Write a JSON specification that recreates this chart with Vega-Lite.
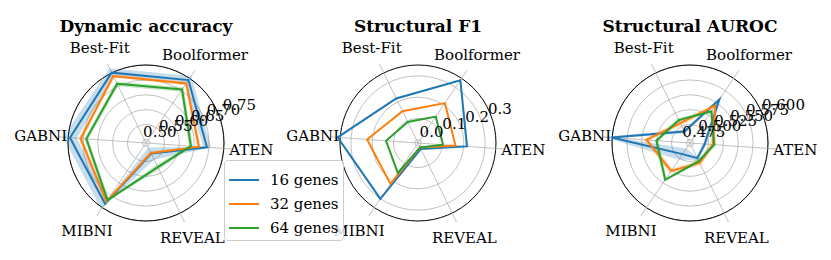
{
  "$schema": "https://vega.github.io/schema/vega-lite/v6.json",
  "padding": {"left": 10, "right": 5, "top": 0, "bottom": 0},
  "spacing": 0,
  "bounds": "flush",
  "config": {
    "view": {"stroke": null},
    "axis": {"disable": true},
    "title": {"font": "DejaVu Serif", "fontSize": 17, "fontWeight": "bold", "color": "black", "anchor": "middle", "offset": -36, "baseline": "alphabetic"},
    "text": {"font": "DejaVu Serif", "fontSize": 15, "color": "black"}
  },
  "resolve": {"scale": {"color": "independent", "fill": "independent"}, "legend": {"color": "independent", "fill": "independent"}},
  "datasets": {
    "axes": [
      {"axis": "ATEN"}, {"axis": "Boolformer"}, {"axis": "Best-Fit"},
      {"axis": "GABNI"}, {"axis": "MIBNI"}, {"axis": "REVEAL"}
    ],
    "frame": [{"part": "outer"}],
    "rings": [
      {"metric": "Dynamic accuracy", "tick": 0.50, "label": "0.50"},
      {"metric": "Dynamic accuracy", "tick": 0.55, "label": "0.55"},
      {"metric": "Dynamic accuracy", "tick": 0.60, "label": "0.60"},
      {"metric": "Dynamic accuracy", "tick": 0.65, "label": "0.65"},
      {"metric": "Dynamic accuracy", "tick": 0.70, "label": "0.70"},
      {"metric": "Dynamic accuracy", "tick": 0.75, "label": "0.75"},
      {"metric": "Structural F1", "tick": 0.0, "label": "0.0"},
      {"metric": "Structural F1", "tick": 0.1, "label": "0.1"},
      {"metric": "Structural F1", "tick": 0.2, "label": "0.2"},
      {"metric": "Structural F1", "tick": 0.3, "label": "0.3"},
      {"metric": "Structural AUROC", "tick": 0.475, "label": "0.475"},
      {"metric": "Structural AUROC", "tick": 0.500, "label": "0.500"},
      {"metric": "Structural AUROC", "tick": 0.525, "label": "0.525"},
      {"metric": "Structural AUROC", "tick": 0.550, "label": "0.550"},
      {"metric": "Structural AUROC", "tick": 0.575, "label": "0.575"},
      {"metric": "Structural AUROC", "tick": 0.600, "label": "0.600"}
    ],
    "scores": [
      {"metric": "Dynamic accuracy", "method": "16 genes", "axis": "ATEN", "mean": 0.670, "std": 0.012},
      {"metric": "Dynamic accuracy", "method": "16 genes", "axis": "Boolformer", "mean": 0.714, "std": 0.015},
      {"metric": "Dynamic accuracy", "method": "16 genes", "axis": "Best-Fit", "mean": 0.721, "std": 0.015},
      {"metric": "Dynamic accuracy", "method": "16 genes", "axis": "GABNI", "mean": 0.715, "std": 0.020},
      {"metric": "Dynamic accuracy", "method": "16 genes", "axis": "MIBNI", "mean": 0.706, "std": 0.020},
      {"metric": "Dynamic accuracy", "method": "16 genes", "axis": "REVEAL", "mean": 0.523, "std": 0.020},
      {"metric": "Dynamic accuracy", "method": "32 genes", "axis": "ATEN", "mean": 0.646, "std": 0.006},
      {"metric": "Dynamic accuracy", "method": "32 genes", "axis": "Boolformer", "mean": 0.702, "std": 0.006},
      {"metric": "Dynamic accuracy", "method": "32 genes", "axis": "Best-Fit", "mean": 0.710, "std": 0.006},
      {"metric": "Dynamic accuracy", "method": "32 genes", "axis": "GABNI", "mean": 0.683, "std": 0.006},
      {"metric": "Dynamic accuracy", "method": "32 genes", "axis": "MIBNI", "mean": 0.699, "std": 0.006},
      {"metric": "Dynamic accuracy", "method": "32 genes", "axis": "REVEAL", "mean": 0.521, "std": 0.005},
      {"metric": "Dynamic accuracy", "method": "64 genes", "axis": "ATEN", "mean": 0.622, "std": 0.006},
      {"metric": "Dynamic accuracy", "method": "64 genes", "axis": "Boolformer", "mean": 0.680, "std": 0.008},
      {"metric": "Dynamic accuracy", "method": "64 genes", "axis": "Best-Fit", "mean": 0.684, "std": 0.008},
      {"metric": "Dynamic accuracy", "method": "64 genes", "axis": "GABNI", "mean": 0.666, "std": 0.006},
      {"metric": "Dynamic accuracy", "method": "64 genes", "axis": "MIBNI", "mean": 0.693, "std": 0.006},
      {"metric": "Dynamic accuracy", "method": "64 genes", "axis": "REVEAL", "mean": 0.568, "std": 0.008},
      {"metric": "Structural F1", "method": "16 genes", "axis": "ATEN", "mean": 0.189, "std": 0.004},
      {"metric": "Structural F1", "method": "16 genes", "axis": "Boolformer", "mean": 0.300, "std": 0.004},
      {"metric": "Structural F1", "method": "16 genes", "axis": "Best-Fit", "mean": 0.191, "std": 0.004},
      {"metric": "Structural F1", "method": "16 genes", "axis": "GABNI", "mean": 0.320, "std": 0.004},
      {"metric": "Structural F1", "method": "16 genes", "axis": "MIBNI", "mean": 0.265, "std": 0.004},
      {"metric": "Structural F1", "method": "16 genes", "axis": "REVEAL", "mean": 0.012, "std": 0.002},
      {"metric": "Structural F1", "method": "32 genes", "axis": "ATEN", "mean": 0.141, "std": 0.002},
      {"metric": "Structural F1", "method": "32 genes", "axis": "Boolformer", "mean": 0.185, "std": 0.002},
      {"metric": "Structural F1", "method": "32 genes", "axis": "Best-Fit", "mean": 0.132, "std": 0.002},
      {"metric": "Structural F1", "method": "32 genes", "axis": "GABNI", "mean": 0.197, "std": 0.002},
      {"metric": "Structural F1", "method": "32 genes", "axis": "MIBNI", "mean": 0.190, "std": 0.002},
      {"metric": "Structural F1", "method": "32 genes", "axis": "REVEAL", "mean": 0.005, "std": 0.001},
      {"metric": "Structural F1", "method": "64 genes", "axis": "ATEN", "mean": 0.089, "std": 0.002},
      {"metric": "Structural F1", "method": "64 genes", "axis": "Boolformer", "mean": 0.117, "std": 0.002},
      {"metric": "Structural F1", "method": "64 genes", "axis": "Best-Fit", "mean": 0.082, "std": 0.002},
      {"metric": "Structural F1", "method": "64 genes", "axis": "GABNI", "mean": 0.118, "std": 0.002},
      {"metric": "Structural F1", "method": "64 genes", "axis": "MIBNI", "mean": 0.135, "std": 0.002},
      {"metric": "Structural F1", "method": "64 genes", "axis": "REVEAL", "mean": 0.005, "std": 0.001},
      {"metric": "Structural AUROC", "method": "16 genes", "axis": "ATEN", "mean": 0.491, "std": 0.003},
      {"metric": "Structural AUROC", "method": "16 genes", "axis": "Boolformer", "mean": 0.547, "std": 0.006},
      {"metric": "Structural AUROC", "method": "16 genes", "axis": "Best-Fit", "mean": 0.488, "std": 0.003},
      {"metric": "Structural AUROC", "method": "16 genes", "axis": "GABNI", "mean": 0.586, "std": 0.012},
      {"metric": "Structural AUROC", "method": "16 genes", "axis": "MIBNI", "mean": 0.489, "std": 0.010},
      {"metric": "Structural AUROC", "method": "16 genes", "axis": "REVEAL", "mean": 0.494, "std": 0.003},
      {"metric": "Structural AUROC", "method": "32 genes", "axis": "ATEN", "mean": 0.503, "std": 0.004},
      {"metric": "Structural AUROC", "method": "32 genes", "axis": "Boolformer", "mean": 0.536, "std": 0.004},
      {"metric": "Structural AUROC", "method": "32 genes", "axis": "Best-Fit", "mean": 0.502, "std": 0.004},
      {"metric": "Structural AUROC", "method": "32 genes", "axis": "GABNI", "mean": 0.534, "std": 0.004},
      {"metric": "Structural AUROC", "method": "32 genes", "axis": "MIBNI", "mean": 0.519, "std": 0.004},
      {"metric": "Structural AUROC", "method": "32 genes", "axis": "REVEAL", "mean": 0.502, "std": 0.004},
      {"metric": "Structural AUROC", "method": "64 genes", "axis": "ATEN", "mean": 0.505, "std": 0.003},
      {"metric": "Structural AUROC", "method": "64 genes", "axis": "Boolformer", "mean": 0.526, "std": 0.003},
      {"metric": "Structural AUROC", "method": "64 genes", "axis": "Best-Fit", "mean": 0.507, "std": 0.003},
      {"metric": "Structural AUROC", "method": "64 genes", "axis": "GABNI", "mean": 0.519, "std": 0.003},
      {"metric": "Structural AUROC", "method": "64 genes", "axis": "MIBNI", "mean": 0.535, "std": 0.003},
      {"metric": "Structural AUROC", "method": "64 genes", "axis": "REVEAL", "mean": 0.499, "std": 0.003}
    ]
  },
  "hconcat": [
    {
      "title": {"text": "Dynamic accuracy"},
      "width": 272, "height": 260,
      "layer": [
        {
          "data": {"name": "rings"},
          "transform": [{"filter": "datum.metric == 'Dynamic accuracy'"}, {"calculate": "(datum.tick - 0.488) / 0.262", "as": "rn"}, {"calculate": "0", "as": "o"}],
          "mark": {"type": "point", "shape": "circle", "filled": false, "stroke": "#b0b0b0", "strokeWidth": 0.8, "opacity": 1},
          "encoding": {
            "x": {"field": "o", "type": "quantitative", "scale": {"domain": [-1.5455, 1.5455], "nice": false, "zero": false}},
            "y": {"field": "o", "type": "quantitative", "scale": {"domain": [-1.3295, 1.625], "nice": false, "zero": false}},
            "size": {"field": "rn", "type": "quantitative", "scale": {"type": "pow", "exponent": 2, "domain": [0, 1], "range": [0, 24328.5], "zero": true}, "legend": null}
          }
        },
        {
          "data": {"name": "frame"},
          "transform": [{"calculate": "1", "as": "rn"}, {"calculate": "0", "as": "o"}],
          "mark": {"type": "point", "shape": "circle", "filled": false, "stroke": "black", "strokeWidth": 1, "opacity": 1},
          "encoding": {
            "x": {"field": "o", "type": "quantitative"},
            "y": {"field": "o", "type": "quantitative"},
            "size": {"field": "rn", "type": "quantitative", "scale": {"type": "pow", "exponent": 2, "domain": [0, 1], "range": [0, 24328.5], "zero": true}, "legend": null}
          }
        },
        {
          "data": {"name": "axes"},
          "transform": [
            {"calculate": "indexof(['ATEN','Boolformer','Best-Fit','GABNI','MIBNI','REVEAL'], datum.axis)", "as": "k"},
            {"calculate": "(-4 + 60 * datum.k) * PI / 180", "as": "th"},
            {"calculate": "0", "as": "o"},
            {"calculate": "cos(datum.th)", "as": "ex"},
            {"calculate": "sin(datum.th)", "as": "ey"}
          ],
          "mark": {"type": "rule", "stroke": "#b0b0b0", "strokeWidth": 0.8},
          "encoding": {
            "x": {"field": "o", "type": "quantitative"},
            "y": {"field": "o", "type": "quantitative"},
            "x2": {"field": "ex"},
            "y2": {"field": "ey"}
          }
        },
        {
          "data": {"name": "scores"},
          "transform": [
            {"filter": "datum.metric == 'Dynamic accuracy'"},
            {"calculate": "indexof(['ATEN','Boolformer','Best-Fit','GABNI','MIBNI','REVEAL'], datum.axis)", "as": "k"},
            {"calculate": "(-4 + 60 * datum.k) * PI / 180", "as": "th"},
            {"calculate": "datum.mean + datum.std", "as": "hi"},
            {"calculate": "datum.mean - datum.std", "as": "lo"},
            {"calculate": "datum.k == 0 ? datum.mean + datum.std : null", "as": "hiC"},
            {"calculate": "datum.k == 0 ? datum.mean - datum.std : null", "as": "loC"},
            {"fold": ["hi", "lo", "hiC", "loC"], "as": ["part", "v"]},
            {"filter": "datum.v != null"},
            {"calculate": "datum.part == 'hi' ? datum.k : datum.part == 'hiC' ? 6 : datum.part == 'loC' ? 7 : 13 - datum.k", "as": "ord"},
            {"calculate": "max(0, (datum.v - 0.488) / 0.262)", "as": "rn"},
            {"calculate": "datum.rn * cos(datum.th)", "as": "px"},
            {"calculate": "datum.rn * sin(datum.th)", "as": "py"}
          ],
          "mark": {"type": "line", "strokeWidth": 0, "strokeOpacity": 0, "fillOpacity": 0.25},
          "encoding": {
            "x": {"field": "px", "type": "quantitative"},
            "y": {"field": "py", "type": "quantitative"},
            "order": {"field": "ord", "type": "quantitative"},
            "fill": {"field": "method", "type": "nominal", "scale": {"domain": ["64 genes", "32 genes", "16 genes"], "range": ["#2ca02c", "#ff7f0e", "#1f77b4"]}, "legend": null}
          }
        },
        {
          "data": {"name": "scores"},
          "transform": [
            {"filter": "datum.metric == 'Dynamic accuracy'"},
            {"calculate": "indexof(['ATEN','Boolformer','Best-Fit','GABNI','MIBNI','REVEAL'], datum.axis)", "as": "k"},
            {"calculate": "(-4 + 60 * datum.k) * PI / 180", "as": "th"},
            {"calculate": "(datum.mean - 0.488) / 0.262", "as": "rn"},
            {"calculate": "datum.rn * cos(datum.th)", "as": "px"},
            {"calculate": "datum.rn * sin(datum.th)", "as": "py"}
          ],
          "mark": {"type": "line", "interpolate": "linear-closed", "strokeWidth": 2},
          "encoding": {
            "x": {"field": "px", "type": "quantitative"},
            "y": {"field": "py", "type": "quantitative"},
            "order": {"field": "k", "type": "quantitative"},
            "color": {"field": "method", "type": "nominal", "scale": {"domain": ["16 genes", "32 genes", "64 genes"], "range": ["#1f77b4", "#ff7f0e", "#2ca02c"]}, "legend": null}
          }
        },
        {
          "data": {"name": "axes"},
          "transform": [
            {"calculate": "indexof(['ATEN','Boolformer','Best-Fit','GABNI','MIBNI','REVEAL'], datum.axis)", "as": "k"},
            {"calculate": "(-4 + 60 * datum.k) * PI / 180", "as": "th"},
            {"calculate": "1.2 * cos(datum.th)", "as": "lx"},
            {"calculate": "1.2 * sin(datum.th)", "as": "ly"}
          ],
          "mark": {"type": "text", "align": "center", "baseline": "middle"},
          "encoding": {
            "x": {"field": "lx", "type": "quantitative"},
            "y": {"field": "ly", "type": "quantitative"},
            "text": {"field": "axis"}
          }
        },
        {
          "data": {"name": "rings"},
          "transform": [
            {"filter": "datum.metric == 'Dynamic accuracy'"},
            {"calculate": "(datum.tick - 0.488) / 0.262", "as": "rn"},
            {"calculate": "datum.rn * cos(18.5 * PI / 180)", "as": "tx"},
            {"calculate": "datum.rn * sin(18.5 * PI / 180)", "as": "ty"}
          ],
          "mark": {"type": "text", "align": "center", "baseline": "middle", "dx": 10, "dy": -10},
          "encoding": {
            "x": {"field": "tx", "type": "quantitative"},
            "y": {"field": "ty", "type": "quantitative"},
            "text": {"field": "label"}
          }
        }
      ]
    },
    {
      "title": {"text": "Structural F1"},
      "width": 272, "height": 260,
      "layer": [
        {
          "data": {"name": "rings"},
          "transform": [{"filter": "datum.metric == 'Structural F1'"}, {"calculate": "(datum.tick + 0.0154) / 0.3664", "as": "rn"}, {"calculate": "0", "as": "o"}],
          "mark": {"type": "point", "shape": "circle", "filled": false, "stroke": "#b0b0b0", "strokeWidth": 0.8, "opacity": 1},
          "encoding": {
            "x": {"field": "o", "type": "quantitative", "scale": {"domain": [-1.5455, 1.5455], "nice": false, "zero": false}},
            "y": {"field": "o", "type": "quantitative", "scale": {"domain": [-1.3295, 1.625], "nice": false, "zero": false}},
            "size": {"field": "rn", "type": "quantitative", "scale": {"type": "pow", "exponent": 2, "domain": [0, 1], "range": [0, 24328.5], "zero": true}, "legend": null}
          }
        },
        {
          "data": {"name": "frame"},
          "transform": [{"calculate": "1", "as": "rn"}, {"calculate": "0", "as": "o"}],
          "mark": {"type": "point", "shape": "circle", "filled": false, "stroke": "black", "strokeWidth": 1, "opacity": 1},
          "encoding": {
            "x": {"field": "o", "type": "quantitative"},
            "y": {"field": "o", "type": "quantitative"},
            "size": {"field": "rn", "type": "quantitative", "scale": {"type": "pow", "exponent": 2, "domain": [0, 1], "range": [0, 24328.5], "zero": true}, "legend": null}
          }
        },
        {
          "data": {"name": "axes"},
          "transform": [
            {"calculate": "indexof(['ATEN','Boolformer','Best-Fit','GABNI','MIBNI','REVEAL'], datum.axis)", "as": "k"},
            {"calculate": "(-4 + 60 * datum.k) * PI / 180", "as": "th"},
            {"calculate": "0", "as": "o"},
            {"calculate": "cos(datum.th)", "as": "ex"},
            {"calculate": "sin(datum.th)", "as": "ey"}
          ],
          "mark": {"type": "rule", "stroke": "#b0b0b0", "strokeWidth": 0.8},
          "encoding": {
            "x": {"field": "o", "type": "quantitative"},
            "y": {"field": "o", "type": "quantitative"},
            "x2": {"field": "ex"},
            "y2": {"field": "ey"}
          }
        },
        {
          "data": {"name": "scores"},
          "transform": [
            {"filter": "datum.metric == 'Structural F1'"},
            {"calculate": "indexof(['ATEN','Boolformer','Best-Fit','GABNI','MIBNI','REVEAL'], datum.axis)", "as": "k"},
            {"calculate": "(-4 + 60 * datum.k) * PI / 180", "as": "th"},
            {"calculate": "datum.mean + datum.std", "as": "hi"},
            {"calculate": "datum.mean - datum.std", "as": "lo"},
            {"calculate": "datum.k == 0 ? datum.mean + datum.std : null", "as": "hiC"},
            {"calculate": "datum.k == 0 ? datum.mean - datum.std : null", "as": "loC"},
            {"fold": ["hi", "lo", "hiC", "loC"], "as": ["part", "v"]},
            {"filter": "datum.v != null"},
            {"calculate": "datum.part == 'hi' ? datum.k : datum.part == 'hiC' ? 6 : datum.part == 'loC' ? 7 : 13 - datum.k", "as": "ord"},
            {"calculate": "max(0, (datum.v + 0.0154) / 0.3664)", "as": "rn"},
            {"calculate": "datum.rn * cos(datum.th)", "as": "px"},
            {"calculate": "datum.rn * sin(datum.th)", "as": "py"}
          ],
          "mark": {"type": "line", "strokeWidth": 0, "strokeOpacity": 0, "fillOpacity": 0.25},
          "encoding": {
            "x": {"field": "px", "type": "quantitative"},
            "y": {"field": "py", "type": "quantitative"},
            "order": {"field": "ord", "type": "quantitative"},
            "fill": {"field": "method", "type": "nominal", "scale": {"domain": ["64 genes", "32 genes", "16 genes"], "range": ["#2ca02c", "#ff7f0e", "#1f77b4"]}, "legend": null}
          }
        },
        {
          "data": {"name": "scores"},
          "transform": [
            {"filter": "datum.metric == 'Structural F1'"},
            {"calculate": "indexof(['ATEN','Boolformer','Best-Fit','GABNI','MIBNI','REVEAL'], datum.axis)", "as": "k"},
            {"calculate": "(-4 + 60 * datum.k) * PI / 180", "as": "th"},
            {"calculate": "(datum.mean + 0.0154) / 0.3664", "as": "rn"},
            {"calculate": "datum.rn * cos(datum.th)", "as": "px"},
            {"calculate": "datum.rn * sin(datum.th)", "as": "py"}
          ],
          "mark": {"type": "line", "interpolate": "linear-closed", "strokeWidth": 2},
          "encoding": {
            "x": {"field": "px", "type": "quantitative"},
            "y": {"field": "py", "type": "quantitative"},
            "order": {"field": "k", "type": "quantitative"},
            "color": {"field": "method", "type": "nominal", "scale": {"domain": ["16 genes", "32 genes", "64 genes"], "range": ["#1f77b4", "#ff7f0e", "#2ca02c"]},
              "legend": {"orient": "none", "legendX": -58, "legendY": 160, "title": null, "symbolType": "stroke", "symbolSize": 900, "symbolStrokeWidth": 2, "labelFont": "DejaVu Serif", "labelFontSize": 15, "labelColor": "black", "fillColor": "rgba(255,255,255,0.8)", "strokeColor": "#cccccc", "cornerRadius": 3, "padding": 4, "rowPadding": -6.5, "labelOffset": 10}}
          }
        },
        {
          "data": {"name": "axes"},
          "transform": [
            {"calculate": "indexof(['ATEN','Boolformer','Best-Fit','GABNI','MIBNI','REVEAL'], datum.axis)", "as": "k"},
            {"calculate": "(-4 + 60 * datum.k) * PI / 180", "as": "th"},
            {"calculate": "1.2 * cos(datum.th)", "as": "lx"},
            {"calculate": "1.2 * sin(datum.th)", "as": "ly"}
          ],
          "mark": {"type": "text", "align": "center", "baseline": "middle"},
          "encoding": {
            "x": {"field": "lx", "type": "quantitative"},
            "y": {"field": "ly", "type": "quantitative"},
            "text": {"field": "axis"}
          }
        },
        {
          "data": {"name": "rings"},
          "transform": [
            {"filter": "datum.metric == 'Structural F1'"},
            {"calculate": "(datum.tick + 0.0154) / 0.3664", "as": "rn"},
            {"calculate": "datum.rn * cos(18.5 * PI / 180)", "as": "tx"},
            {"calculate": "datum.rn * sin(18.5 * PI / 180)", "as": "ty"}
          ],
          "mark": {"type": "text", "align": "center", "baseline": "middle", "dx": 10, "dy": -10},
          "encoding": {
            "x": {"field": "tx", "type": "quantitative"},
            "y": {"field": "ty", "type": "quantitative"},
            "text": {"field": "label"}
          }
        }
      ]
    },
    {
      "title": {"text": "Structural AUROC"},
      "width": 272, "height": 260,
      "layer": [
        {
          "data": {"name": "rings"},
          "transform": [{"filter": "datum.metric == 'Structural AUROC'"}, {"calculate": "(datum.tick - 0.469) / 0.131", "as": "rn"}, {"calculate": "0", "as": "o"}],
          "mark": {"type": "point", "shape": "circle", "filled": false, "stroke": "#b0b0b0", "strokeWidth": 0.8, "opacity": 1},
          "encoding": {
            "x": {"field": "o", "type": "quantitative", "scale": {"domain": [-1.5455, 1.5455], "nice": false, "zero": false}},
            "y": {"field": "o", "type": "quantitative", "scale": {"domain": [-1.3295, 1.625], "nice": false, "zero": false}},
            "size": {"field": "rn", "type": "quantitative", "scale": {"type": "pow", "exponent": 2, "domain": [0, 1], "range": [0, 24328.5], "zero": true}, "legend": null}
          }
        },
        {
          "data": {"name": "frame"},
          "transform": [{"calculate": "1", "as": "rn"}, {"calculate": "0", "as": "o"}],
          "mark": {"type": "point", "shape": "circle", "filled": false, "stroke": "black", "strokeWidth": 1, "opacity": 1},
          "encoding": {
            "x": {"field": "o", "type": "quantitative"},
            "y": {"field": "o", "type": "quantitative"},
            "size": {"field": "rn", "type": "quantitative", "scale": {"type": "pow", "exponent": 2, "domain": [0, 1], "range": [0, 24328.5], "zero": true}, "legend": null}
          }
        },
        {
          "data": {"name": "axes"},
          "transform": [
            {"calculate": "indexof(['ATEN','Boolformer','Best-Fit','GABNI','MIBNI','REVEAL'], datum.axis)", "as": "k"},
            {"calculate": "(-4 + 60 * datum.k) * PI / 180", "as": "th"},
            {"calculate": "0", "as": "o"},
            {"calculate": "cos(datum.th)", "as": "ex"},
            {"calculate": "sin(datum.th)", "as": "ey"}
          ],
          "mark": {"type": "rule", "stroke": "#b0b0b0", "strokeWidth": 0.8},
          "encoding": {
            "x": {"field": "o", "type": "quantitative"},
            "y": {"field": "o", "type": "quantitative"},
            "x2": {"field": "ex"},
            "y2": {"field": "ey"}
          }
        },
        {
          "data": {"name": "scores"},
          "transform": [
            {"filter": "datum.metric == 'Structural AUROC'"},
            {"calculate": "indexof(['ATEN','Boolformer','Best-Fit','GABNI','MIBNI','REVEAL'], datum.axis)", "as": "k"},
            {"calculate": "(-4 + 60 * datum.k) * PI / 180", "as": "th"},
            {"calculate": "datum.mean + datum.std", "as": "hi"},
            {"calculate": "datum.mean - datum.std", "as": "lo"},
            {"calculate": "datum.k == 0 ? datum.mean + datum.std : null", "as": "hiC"},
            {"calculate": "datum.k == 0 ? datum.mean - datum.std : null", "as": "loC"},
            {"fold": ["hi", "lo", "hiC", "loC"], "as": ["part", "v"]},
            {"filter": "datum.v != null"},
            {"calculate": "datum.part == 'hi' ? datum.k : datum.part == 'hiC' ? 6 : datum.part == 'loC' ? 7 : 13 - datum.k", "as": "ord"},
            {"calculate": "max(0, (datum.v - 0.469) / 0.131)", "as": "rn"},
            {"calculate": "datum.rn * cos(datum.th)", "as": "px"},
            {"calculate": "datum.rn * sin(datum.th)", "as": "py"}
          ],
          "mark": {"type": "line", "strokeWidth": 0, "strokeOpacity": 0, "fillOpacity": 0.25},
          "encoding": {
            "x": {"field": "px", "type": "quantitative"},
            "y": {"field": "py", "type": "quantitative"},
            "order": {"field": "ord", "type": "quantitative"},
            "fill": {"field": "method", "type": "nominal", "scale": {"domain": ["64 genes", "32 genes", "16 genes"], "range": ["#2ca02c", "#ff7f0e", "#1f77b4"]}, "legend": null}
          }
        },
        {
          "data": {"name": "scores"},
          "transform": [
            {"filter": "datum.metric == 'Structural AUROC'"},
            {"calculate": "indexof(['ATEN','Boolformer','Best-Fit','GABNI','MIBNI','REVEAL'], datum.axis)", "as": "k"},
            {"calculate": "(-4 + 60 * datum.k) * PI / 180", "as": "th"},
            {"calculate": "(datum.mean - 0.469) / 0.131", "as": "rn"},
            {"calculate": "datum.rn * cos(datum.th)", "as": "px"},
            {"calculate": "datum.rn * sin(datum.th)", "as": "py"}
          ],
          "mark": {"type": "line", "interpolate": "linear-closed", "strokeWidth": 2},
          "encoding": {
            "x": {"field": "px", "type": "quantitative"},
            "y": {"field": "py", "type": "quantitative"},
            "order": {"field": "k", "type": "quantitative"},
            "color": {"field": "method", "type": "nominal", "scale": {"domain": ["16 genes", "32 genes", "64 genes"], "range": ["#1f77b4", "#ff7f0e", "#2ca02c"]}, "legend": null}
          }
        },
        {
          "data": {"name": "axes"},
          "transform": [
            {"calculate": "indexof(['ATEN','Boolformer','Best-Fit','GABNI','MIBNI','REVEAL'], datum.axis)", "as": "k"},
            {"calculate": "(-4 + 60 * datum.k) * PI / 180", "as": "th"},
            {"calculate": "1.2 * cos(datum.th)", "as": "lx"},
            {"calculate": "1.2 * sin(datum.th)", "as": "ly"}
          ],
          "mark": {"type": "text", "align": "center", "baseline": "middle"},
          "encoding": {
            "x": {"field": "lx", "type": "quantitative"},
            "y": {"field": "ly", "type": "quantitative"},
            "text": {"field": "axis"}
          }
        },
        {
          "data": {"name": "rings"},
          "transform": [
            {"filter": "datum.metric == 'Structural AUROC'"},
            {"calculate": "(datum.tick - 0.469) / 0.131", "as": "rn"},
            {"calculate": "datum.rn * cos(18.5 * PI / 180)", "as": "tx"},
            {"calculate": "datum.rn * sin(18.5 * PI / 180)", "as": "ty"}
          ],
          "mark": {"type": "text", "align": "center", "baseline": "middle", "dx": 10, "dy": -10},
          "encoding": {
            "x": {"field": "tx", "type": "quantitative"},
            "y": {"field": "ty", "type": "quantitative"},
            "text": {"field": "label"}
          }
        }
      ]
    }
  ]
}
